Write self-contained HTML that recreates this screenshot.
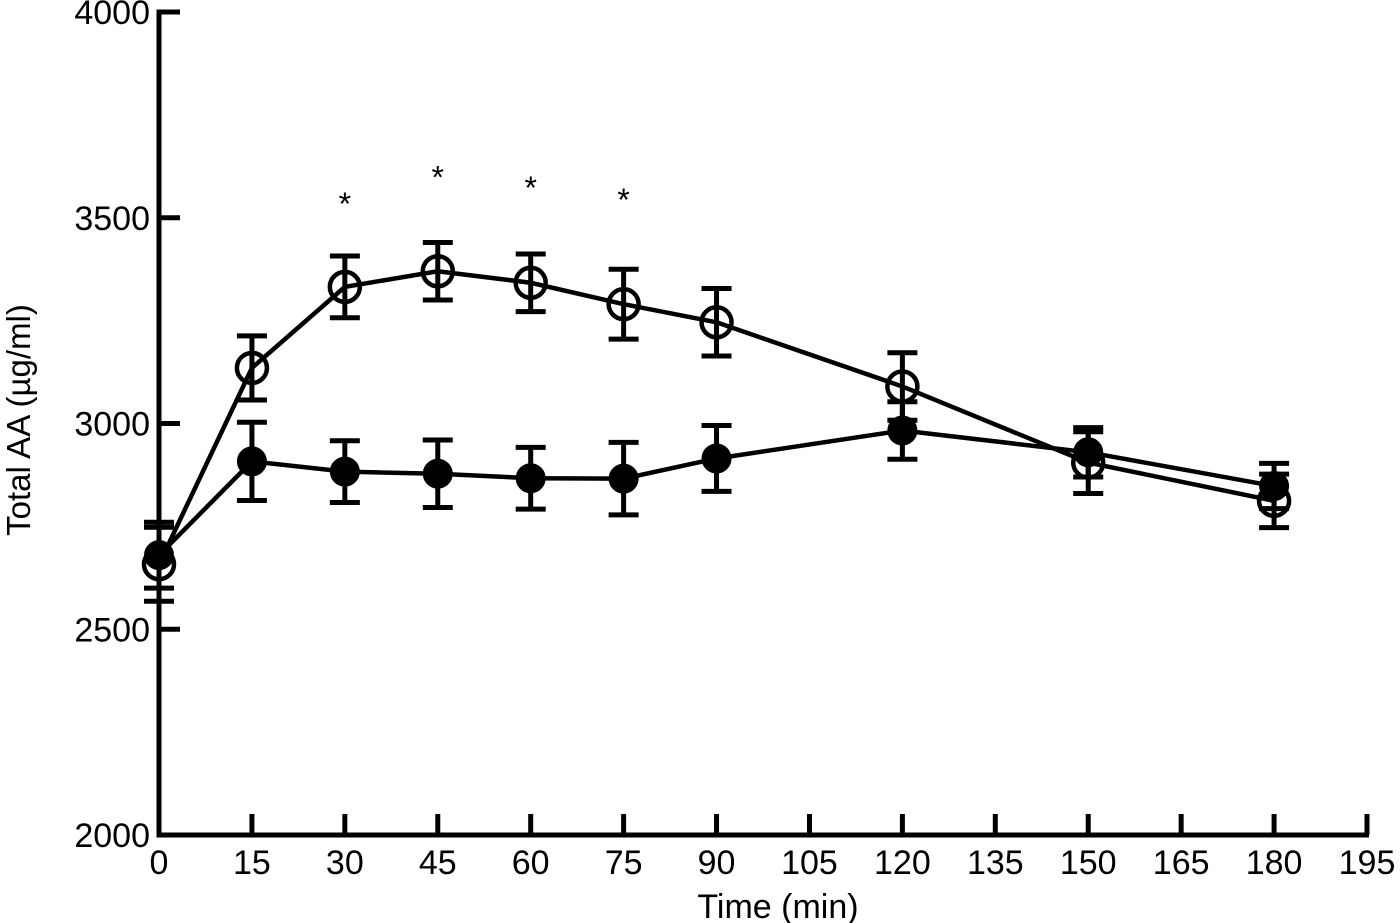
<!DOCTYPE html>
<html><head><meta charset="utf-8"><style>
html,body{margin:0;padding:0;background:#fff;}
svg{display:block;font-family:"Liberation Sans",Arial,sans-serif;}
</style></head><body>
<svg id="chart" width="1400" height="923" viewBox="0 0 1400 923"></svg>
<script>
const xTicks=[0,15,30,45,60,75,90,105,120,135,150,165,180,195];
const yTicks=[2000,2500,3000,3500,4000];
const times=[0,15,30,45,60,75,90,120,150,180];
const openMean=[2658,3135,3332,3370,3342,3290,3246,3090,2905,2812];
const openErr=[90,78,75,70,70,85,82,82,75,65];
const filledMean=[2680,2908,2883,2878,2867,2866,2915,2983,2930,2848];
const filledErr=[80,95,75,82,75,88,80,70,60,55];
const starTimes=[30,45,60,75];
const starValues=[3545,3610,3585,3555];

const svg=document.getElementById('chart');
const NS='http://www.w3.org/2000/svg';
const X0=159,X1=1367,Y0=835,Y1=12;
function xs(v){return X0+(v-0)/195*(X1-X0);}
function ys(v){return Y0-(v-2000)/2000*(Y0-Y1);}
function mk(tag,attrs,parent){const e=document.createElementNS(NS,tag);for(const k in attrs)e.setAttribute(k,attrs[k]);(parent||svg).appendChild(e);return e;}

const axes=mk('g',{});


const xa=mk('line',{x1:X0-2.5,y1:Y0,x2:X1+2,y2:Y0,stroke:'#000','stroke-width':5},axes);


const ya=mk('line',{x1:X0,y1:Y0+2.5,x2:X0,y2:Y1-2.5,stroke:'#000','stroke-width':5},axes);


xTicks.forEach(t=>{
  const l=mk('line',{x1:xs(t),y1:Y0,x2:xs(t),y2:Y0-21,stroke:'#000','stroke-width':5},axes);
  
  
  const tx=mk('text',{x:xs(t),y:874,'font-size':34,'text-anchor':'middle'},axes);
  tx.textContent=t;
  
  
});
yTicks.forEach(t=>{
  const l=mk('line',{x1:X0,y1:ys(t),x2:X0+21,y2:ys(t),stroke:'#000','stroke-width':5},axes);
  
  
  const tx=mk('text',{x:150,y:ys(t)+12,'font-size':34,'text-anchor':'end'},axes);
  tx.textContent=t;
  
  
});
const xt=mk('text',{x:778,y:918,'font-size':34,'text-anchor':'middle'});
xt.textContent='Time (min)';


const yt=mk('text',{x:0,y:0,'font-size':33,'text-anchor':'middle',transform:'translate(30,420) rotate(-90)'});
yt.textContent='Total AA (µg/ml)';



function series(mean,err,filled,name){
  const g=mk('g',{});
  
  
  const pts=times.map((t,i)=>xs(t)+','+ys(mean[i])).join(' ');
  const pl=mk('polyline',{points:pts,fill:'none',stroke:'#000','stroke-width':4.5},g);
  
  
  times.forEach((t,i)=>{
    const x=xs(t),yt=ys(mean[i]+err[i]),yb=ys(mean[i]-err[i]);
    const eb=mk('path',{d:`M${x},${yt}V${yb}M${x-15},${yt}H${x+15}M${x-15},${yb}H${x+15}`,stroke:'#000','stroke-width':5,fill:'none'},g);
    
    
  });
  times.forEach((t,i)=>{
    const c=mk('circle',{cx:xs(t),cy:ys(mean[i]),r:filled?14:15,fill:filled?'#000':'none',stroke:'#000','stroke-width':filled?2:4.5},g);
    
    
  });
}
series(openMean,openErr,false,'open-series');
series(filledMean,filledErr,true,'filled-series');

starTimes.forEach((t,i)=>{
  const s=mk('text',{x:xs(t),y:ys(starValues[i])+16,'font-size':32,'text-anchor':'middle'});
  s.textContent='*';
  
  
});
</script>
</body></html>
